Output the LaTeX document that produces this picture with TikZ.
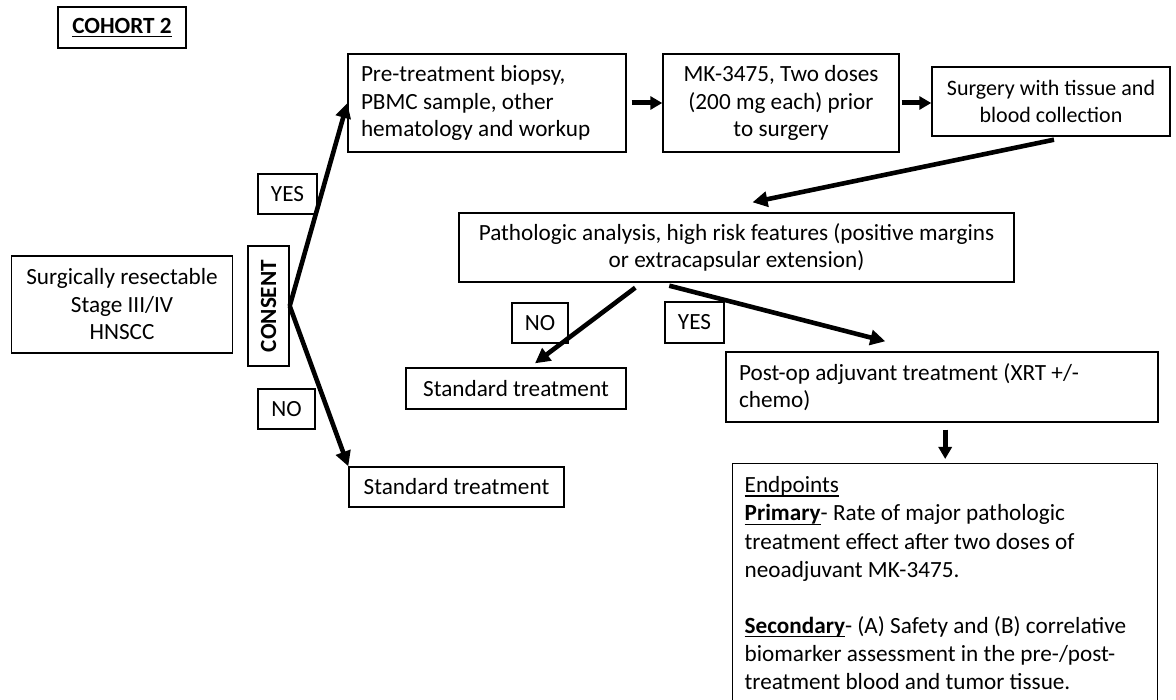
\documentclass[tikz,border=0pt]{standalone}
\usepackage{fontspec}
\setmainfont{Carlito}
\usetikzlibrary{arrows.meta,calc}
\newcommand\bodyfs{\fontsize{23.2pt}{27.5pt}\selectfont}
\newcommand\myul[1]{\leavevmode\setbox0\hbox{#1}\rlap{\vrule height -2.6pt depth 3.9pt width \wd0}\box0}
\tikzset{
  box/.style={draw, line width=1.4pt, inner sep=0pt, font=\bodyfs, align=center},
  arr/.style={line width=4.6pt, -{Triangle[length=15pt,width=15pt]}},
  sarr/.style={line width=5pt, -{Triangle[length=12pt,width=13pt]}}
}
\begin{document}
\begin{tikzpicture}[x=1pt,y=-1pt]
\useasboundingbox (0,0) rectangle (1176,700);
\clip (0,0) rectangle (1176,700);

\node[box, minimum width=128pt, minimum height=41pt] (cohort) at (122,27.5) {\textbf{\myul{COHORT 2}}};

\node[box, minimum width=221pt, minimum height=97pt] (surgically) at (122,304.5) {Surgically resectable\\Stage III/IV\\HNSCC};

\node[box, rotate=90, minimum width=120pt, minimum height=41pt] (consent) at (268.5,306) {\textbf{CONSENT}};

\node[box, minimum width=59pt, minimum height=40pt] (yes1) at (287.5,194) {YES};
\node[box, minimum width=57pt, minimum height=40pt] (no1) at (286.5,409) {NO};

\node[box, minimum width=278pt, minimum height=98pt, text width=252pt, inner xsep=13pt, align=flush left] (pre) at (487,103) {Pre-treatment biopsy,\\PBMC sample, other\\hematology and workup};

\node[box, minimum width=236pt, minimum height=98pt] (mk) at (781,103) {MK-3475, Two doses\\(200 mg each) prior\\to surgery};

\node[box, minimum width=238pt, minimum height=69pt, font=\fontsize{22pt}{27pt}\selectfont] (surg) at (1051,101.5) {Surgery with tissue and\\blood collection};

\node[box, minimum width=555pt, minimum height=69pt] (path) at (736.5,247.5) {Pathologic analysis, high risk features (positive margins\\or extracapsular extension)};

\node[box, minimum width=56pt, minimum height=40pt] (no2) at (540,323) {NO};
\node[box, minimum width=59pt, minimum height=41pt] (yes2) at (694.5,322.5) {YES};

\node[box, minimum width=220pt, minimum height=41pt] (std2) at (516,388.5) {Standard treatment};
\node[box, minimum width=215pt, minimum height=40pt] (std1) at (456.5,487) {Standard treatment};

\node[box, minimum width=432pt, minimum height=70pt, text width=406pt, inner xsep=13pt, align=flush left] (post) at (942,387) {Post-op adjuvant treatment (XRT +/-\\chemo)};

\node[box, anchor=north west, text width=401pt, inner xsep=12pt, inner ysep=13pt, align=flush left, font=\fontsize{23.2pt}{28.1pt}\selectfont] (endp) at (732,463) {\myul{Endpoints}\\
\textbf{\myul{Primary}}- Rate of major pathologic\\
treatment effect after two doses of\\
neoadjuvant MK-3475.\\[28pt]
\textbf{\myul{Secondary}}- (A) Safety and (B) correlative\\
biomarker assessment in the pre-/post-\\
treatment blood and tumor tissue.\\
\mbox{}\\ \mbox{}};

% connectors
\draw[arr] (consent.south) -- (pre.west);
\draw[arr] (consent.south) -- (std1.north west);
\draw[sarr] ([xshift=5pt]pre.east) -- (mk.west);
\draw[sarr] ([xshift=2pt]mk.east) -- (mk.east -| surg.west);
\draw[arr] ($(surg.south)+(3,3)$) -- ($(path.north)+(16,-10)$);
\draw[arr] ($(path.south west)+(177,5)$) -- ($(std2.north)+(19,-4)$);
\draw[arr] ($(path.south west)+(211,3)$) -- ($(post.north west)+(160,-10)$);
\draw[sarr] ($(endp.north |- post.south)+(0,7)$) -- ($(endp.north)+(0,-4)$);
\end{tikzpicture}
\end{document}
